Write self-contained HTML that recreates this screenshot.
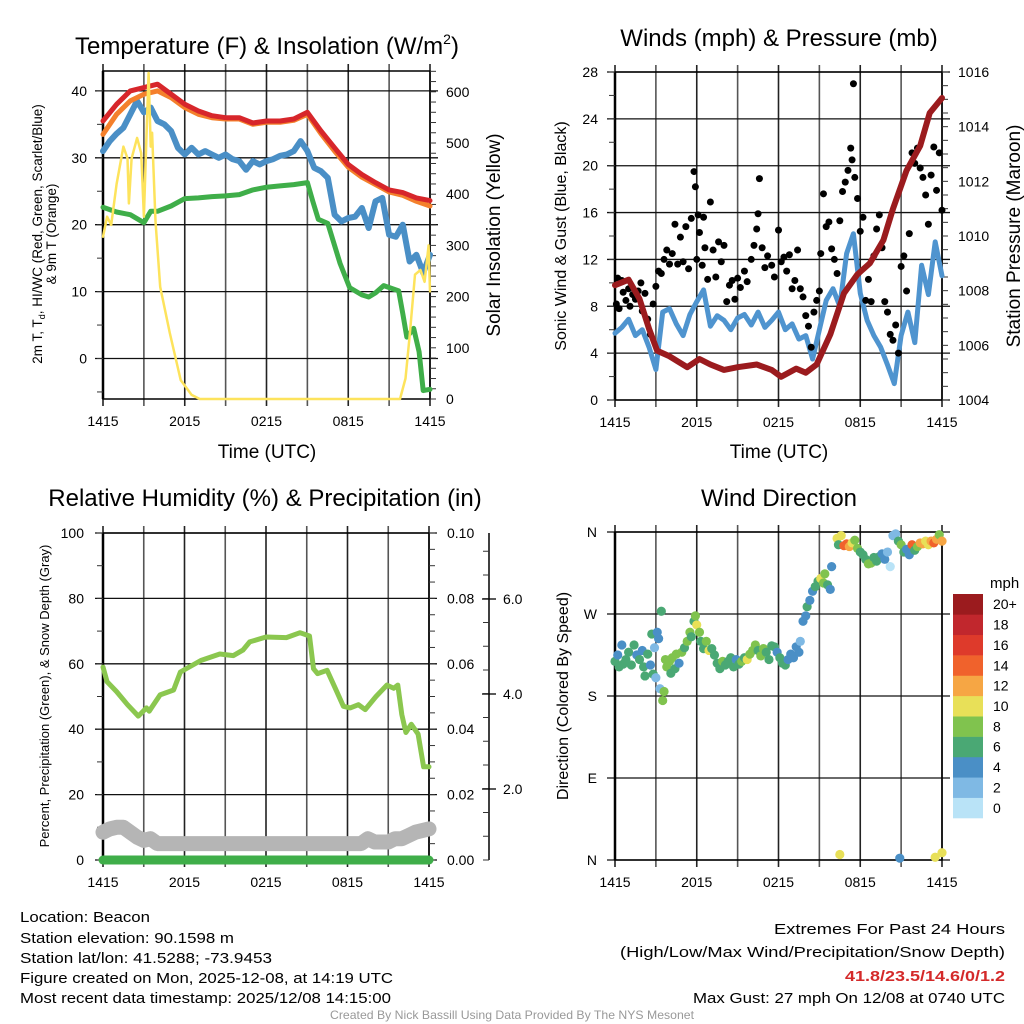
<!DOCTYPE html>
<html><head><meta charset="utf-8"><style>
html,body{margin:0;padding:0;background:#fff;}
svg{display:block;font-family:"Liberation Sans",sans-serif;}
</style></head><body>
<svg id="chart" width="1024" height="1024" viewBox="0 0 1024 1024" xmlns="http://www.w3.org/2000/svg">
<rect width="1024" height="1024" fill="#fff"/>
<g id="layer"></g>
<g id="txt" font-size="15" fill="#000">
<text x="267" y="54" font-size="24" text-anchor="middle">Temperature (F) &amp; Insolation (W/m<tspan font-size="14" dy="-10">2</tspan><tspan dy="10">)</tspan></text>
<text x="779" y="46" font-size="24" text-anchor="middle">Winds (mph) &amp; Pressure (mb)</text>
<text x="265" y="506" font-size="24" text-anchor="middle">Relative Humidity (%) &amp; Precipitation (in)</text>
<text x="779" y="506" font-size="24" text-anchor="middle">Wind Direction</text>
<text x="267" y="458" font-size="19" text-anchor="middle">Time (UTC)</text>
<text x="779" y="458" font-size="19" text-anchor="middle">Time (UTC)</text>
<text transform="translate(42,234) rotate(-90)" font-size="13.5" text-anchor="middle">2m T, T<tspan font-size="9" dy="3">d</tspan><tspan dy="-3">, HI/WC (Red, Green, Scarlet/Blue)</tspan></text>
<text transform="translate(56,234) rotate(-90)" font-size="13.5" text-anchor="middle">&amp; 9m T (Orange)</text>
<text transform="translate(500,235) rotate(-90)" font-size="19" text-anchor="middle">Solar Insolation (Yellow)</text>
<text transform="translate(566,236) rotate(-90)" font-size="16" text-anchor="middle">Sonic Wind &amp; Gust (Blue, Black)</text>
<text transform="translate(1020,236) rotate(-90)" font-size="19" text-anchor="middle">Station Pressure (Maroon)</text>
<text transform="translate(49,696) rotate(-90)" font-size="13" text-anchor="middle">Percent, Precipitation (Green), &amp; Snow Depth (Gray)</text>
<text transform="translate(568,696) rotate(-90)" font-size="16" text-anchor="middle">Direction (Colored By Speed)</text>
<text x="990" y="588" font-size="15">mph</text>
<g>
<text x="20" y="922" textLength="130" lengthAdjust="spacingAndGlyphs">Location: Beacon</text>
<text x="20" y="943" textLength="214" lengthAdjust="spacingAndGlyphs">Station elevation: 90.1598 m</text>
<text x="20" y="963" textLength="252" lengthAdjust="spacingAndGlyphs">Station lat/lon: 41.5288; -73.9453</text>
<text x="20" y="983" textLength="373" lengthAdjust="spacingAndGlyphs">Figure created on Mon, 2025-12-08, at 14:19 UTC</text>
<text x="20" y="1003" textLength="371" lengthAdjust="spacingAndGlyphs">Most recent data timestamp: 2025/12/08 14:15:00</text>
</g>
<g text-anchor="end">
<text x="1005" y="934" textLength="231" lengthAdjust="spacingAndGlyphs">Extremes For Past 24 Hours</text>
<text x="1005" y="957" textLength="385" lengthAdjust="spacingAndGlyphs">(High/Low/Max Wind/Precipitation/Snow Depth)</text>
<text x="1005" y="981" fill="#d42a2a" font-weight="bold" textLength="160" lengthAdjust="spacingAndGlyphs">41.8/23.5/14.6/0/1.2</text>
<text x="1005" y="1003" textLength="312" lengthAdjust="spacingAndGlyphs">Max Gust: 27 mph On 12/08 at 0740 UTC</text>
</g>
<text x="512" y="1019" font-size="12" fill="#999" text-anchor="middle" textLength="364" lengthAdjust="spacingAndGlyphs">Created By Nick Bassill Using Data Provided By The NYS Mesonet</text>
</g>
</svg>
<script>
// ---------- data ----------
const xTickLabels = ["1415","2015","0215","0815","1415"];
const tempTicks = [0,10,20,30,40];
const insolTicks = [0,100,200,300,400,500,600];
const windTicks = [0,4,8,12,16,20,24,28];
const presTicks = [1004,1006,1008,1010,1012,1014,1016];
const rhTicks = [0,20,40,60,80,100];
const precipTicks = ["0.00","0.02","0.04","0.06","0.08","0.10"];
const snowTicks = ["2.0","4.0","6.0"];
const dirLabels = ["N","E","S","W","N"];
const speedBins = ["0","2","4","6","8","10","12","14","16","18","20+"];
const speedColors = ["#b9e3f7","#7fb9e4","#4a8fc6","#4aa874","#80c34e","#e8e058","#f6a644","#f0622c","#de3a2b","#c1272d","#9b1b1e"];

const redT = [0,1,2,3,4,5,6,7,8,9,10,11,12,13,14,15,16,17,18,19,20,21,22,23,24];
const redV = [35.5,38,40,40.5,41,39.5,38,37,36.3,36,36,35.2,35.5,35.5,35.8,36.8,34,31.5,29,27.5,26.3,25.2,24.8,24,23.6];
const orangeV = [33.5,36.5,38.5,39.5,40,39,37.5,36.5,36,35.8,35.8,35,35.3,35.3,35.6,36.5,33.6,31,28.6,27.1,26,24.9,24.4,23.5,22.8];
const blueT = [0,0.5,1,1.5,2,2.5,3,3.5,4,4.5,5,5.5,6,6.5,7,7.5,8,8.5,9,9.5,10,10.5,11,11.5,12,12.5,13,13.5,14,14.5,15,15.5,16,16.5,17,17.5,18,18.5,19,19.5,20,20.5,21,21.5,22,22.5,23,23.5,24];
const blueV = [31,32.5,33.6,34.5,36.5,38.5,36.8,37.5,35.5,35,34,31.5,30.5,31.5,30.5,31,30.5,30,30.5,29.8,29.5,28.2,29.5,29,29.5,29.8,30.3,30.5,31,32.5,31,28.5,28,27,21.5,20.5,21,21.2,22.5,19.5,23.5,24,18.5,18.2,20,14.5,15.5,12.8,15.5];
const greenT = [0,1,2,3,3.5,4,5,6,7,8,9,10,11,12,13,14,15,15.4,15.8,16.5,17.4,18.1,19,19.5,20,20.6,21.7,22,22.3,22.8,23.2,23.5,24];
const greenV = [22.6,21.9,21.5,20.3,22,22,22.8,23.9,24,24.2,24.3,24.5,25.2,25.6,25.8,26,26.3,23.5,20.8,20.2,14.2,10.6,9.5,9.2,9.8,10.9,10.1,6.7,3.2,4.5,1,-4.8,-4.6];
const solarT = [0,0.3,0.6,1,1.5,1.8,1.9,2.1,2.5,2.8,3,3.2,3.35,3.5,3.6,3.85,4.2,4.9,5.7,6.5,7.1,21.8,22.2,22.5,22.9,23.3,23.6,23.9,24];
const solarV = [317,356,340,420,493,470,382,470,510,480,356,520,637,493,520,347,219,129,37,8,0,0,40,122,243,252,229,300,210];

const sonicT = blueT;
const sonicV = [5.7,6.2,6.9,5.5,6.0,4.5,2.6,7.5,7.8,6.5,5.5,7.3,8.4,9.4,6.3,7.2,6.8,6.0,7.0,7.3,6.4,7.5,6.2,6.8,7.5,6.0,6.5,5.2,5.5,3.5,6.0,8.5,9.5,8.0,12.5,14.2,9.1,6.8,5.5,4.5,3.0,1.4,5.5,7.5,4.9,11.5,9.0,13.5,10.6];
const gustT = [0.1,0.2,0.3,0.5,0.6,0.8,1.0,1.1,1.3,1.5,1.7,1.9,2.0,2.2,2.4,2.6,2.8,3.0,3.2,3.4,3.6,3.8,4.0,4.2,4.4,4.6,4.8,5.0,5.2,5.4,5.6,5.8,5.9,6.0,6.1,6.2,6.4,6.5,6.6,6.8,7.0,7.2,7.4,7.6,7.8,8.0,8.2,8.4,8.6,8.8,9.0,9.2,9.5,9.7,10.0,10.2,10.4,10.5,10.6,10.8,11.0,11.2,11.5,11.7,12.0,12.2,12.4,12.6,12.8,13.0,13.2,13.4,13.6,13.8,14.0,14.2,14.4,14.6,14.8,15.0,15.1,15.3,15.5,15.7,15.9,16.1,16.3,16.5,16.7,16.9,17.1,17.3,17.4,17.5,17.6,17.8,18.0,18.2,18.4,18.6,18.8,19.0,19.2,19.4,19.6,19.8,20.0,20.2,20.4,20.6,20.8,21.0,21.2,21.4,21.6,21.8,22.0,22.2,22.4,22.6,22.8,23.0,23.2,23.4,23.6,23.8,24.0];
const gustV = [8.2,10.4,7.8,10.2,9.2,8.5,9.5,8.0,9.0,8.6,9.3,10.0,7.6,9.1,6.9,5.6,8.2,9.7,11.0,10.8,12.0,12.8,11.6,12.5,15.0,11.6,13.9,11.8,14.8,11.2,15.5,19.5,18.2,12.0,15.8,14.3,11.5,15.6,13.0,10.3,16.9,12.8,10.5,13.5,11.8,13.2,8.4,9.8,10.2,8.6,10.4,9.6,11.0,10.1,12.0,13.2,14.6,15.9,18.9,13.0,11.3,12.3,11.5,10.5,14.5,11.8,12.2,11.0,12.4,9.5,10.2,12.8,9.5,8.8,7.2,6.3,4.5,7.5,8.5,9.3,12.5,17.6,14.8,15.2,12.9,12.0,10.8,15.3,17.8,18.6,19.6,21.5,20.5,27.0,19.0,17.2,14.4,15.6,8.5,10.3,8.4,12.3,14.6,15.8,13.0,8.4,7.5,5.6,5.1,6.4,4.0,11.4,12.3,9.3,14.2,21.1,20.2,21.5,19.8,19.0,17.5,15.0,19.2,21.6,17.9,21.1,16.2];
const presT = [0,1,1.8,2.5,3.1,4,5.3,6.2,7,8,9,10.4,11.5,12.2,13.3,14,14.8,15.8,16.8,17.8,18.7,19.7,20.4,21.4,22.4,23.1,24];
const presV = [1008.2,1008.4,1007.7,1006.6,1005.8,1005.6,1005.2,1005.5,1005.3,1005.1,1005.2,1005.3,1005.1,1004.85,1005.15,1005.0,1005.3,1006.4,1007.9,1008.6,1009.0,1009.85,1011.0,1012.4,1013.3,1014.5,1015.05];

const rhT = [0,0.3,1,1.8,2.6,3.2,3.4,4.2,5.2,5.7,7.2,8.6,9.6,10.3,10.8,12,13.5,14.5,15.2,15.5,15.8,16.5,17.1,17.7,18.2,18.8,19.3,20.1,20.9,21.4,21.7,22,22.3,22.7,23.2,23.6,24];
const rhV = [59,54.5,51.5,47.5,44,46.5,45.5,50.5,52,57.5,61,63,62.5,64.2,66.7,68.2,68,69.5,68.5,58.5,57,58,52.5,47,46.5,47.5,46,50,53.5,52.5,53.5,44.5,39,41.5,38.5,28.5,28.5];
const snowT = [0,0.5,1,1.5,2,2.5,3,3.5,4,19,19.5,20,21,21.5,22,22.5,23,23.5,24];
const snowV = [8.5,9.5,10,10,8.5,7,6,6.5,5,5,6.5,5.5,5.5,6.5,6.5,7.5,8.5,9,9.5];
const precipT = [0,24];
const precipV = [0,0];

const dirT = [0.0,0.2,0.3,0.5,0.6,0.8,1.0,1.2,1.4,1.6,1.8,2.0,2.1,2.2,2.4,2.6,2.8,2.7,2.9,3.0,3.1,3.2,3.3,3.4,3.5,3.6,3.7,3.8,4.0,4.1,4.2,4.4,4.5,4.7,4.9,5.1,5.3,5.5,5.6,5.8,5.9,6.0,6.2,6.3,6.5,6.7,6.9,7.1,7.3,7.5,7.7,7.9,8.1,8.3,8.5,8.7,8.9,9.1,9.3,9.5,9.7,9.9,10.1,10.3,10.5,10.7,10.9,11.1,11.3,11.5,11.7,11.9,12.1,12.3,12.5,12.7,12.9,13.1,13.3,13.5,13.6,13.8,14.0,14.1,14.3,14.5,14.7,14.9,15.1,15.3,15.4,15.6,15.8,15.9,16.3,16.4,16.6,16.8,17.0,17.2,17.4,17.6,17.8,18.0,18.2,18.4,18.6,18.8,19.0,19.2,19.4,19.6,19.8,20.0,20.2,20.4,20.6,20.8,21.0,21.2,21.4,21.6,21.8,22.0,22.2,22.4,22.6,22.8,23.0,23.2,23.4,23.6,23.8,24.0,16.5,20.9,23.5,24.0];
const dirD = [218,225,212,236,215,220,228,214,236,225,220,230,212,202,226,214,204,248,233,200,250,243,188,273,175,185,220,212,218,205,222,210,226,216,228,233,240,250,245,262,268,258,250,240,232,240,230,232,225,216,210,218,214,218,222,212,220,215,218,222,220,226,230,236,230,224,232,228,220,235,234,228,222,216,214,220,226,222,234,228,240,262,268,278,285,295,300,306,309,304,314,302,297,322,353,346,356,345,347,344,348,351,342,338,335,330,325,326,332,328,333,336,330,338,322,356,358,350,346,338,341,335,346,340,344,348,347,350,346,350,348,352,357,350,6,2,3,8];
const dirS = [6,5,6,4,6,7,6,6,6,5,7,4,6,6,6,4,7,7,3,3,5,4,3,6,8,8,8,8,9,6,8,7,8,4,8,6,8,8,6,6,8,10,8,6,6,8,10,6,6,6,7,8,6,6,6,6,5,7,8,6,10,8,8,8,7,8,8,7,6,6,7,4,6,6,6,4,4,4,4,4,3,4,4,6,4,4,6,6,10,8,8,6,4,4,10,6,10,14,14,12,10,8,8,6,6,6,8,8,7,6,6,4,4,2,1,2,2,6,8,6,4,4,14,6,8,12,12,11,10,12,14,12,8,12,10,4,10,10];

// ---------- helpers ----------
const NS = "http://www.w3.org/2000/svg";
const root = document.getElementById("layer");
function mk(tag, attrs, parent) {
  const el = document.createElementNS(NS, tag);
  for (const k in attrs) el.setAttribute(k, attrs[k]);
  (parent || root).appendChild(el);
  return el;
}
function grp(name) {
  const g = mk("g", {});
  
  
  return g;
}
const P1 = {x0:103, x1:430, y0:71, y1:399};
const P2 = {x0:615, x1:942, y0:72, y1:400};
const P3 = {x0:103, x1:429, y0:533, y1:860};
const P4 = {x0:615, x1:942, y0:532, y1:860};
const xs = (p, t) => p.x0 + t / 24 * (p.x1 - p.x0);
const yTemp = v => 358.5 - v * 6.69;
const ySolar = v => 399 - v * 0.512;
const yWind = v => 400 - v * 328 / 28;
const yPres = v => 400 - (v - 1004) * 328 / 12;
const yRH = v => 860 - v * 3.27;
const yPrecip = v => 860 - v * 3270;
const yDir = d => 860 - d / 360 * 328;

function pathFrom(p, ts, vs, yf) {
  let d = "";
  for (let i = 0; i < ts.length; i++) d += (i ? "L" : "M") + xs(p, ts[i]).toFixed(1) + "," + yf(vs[i]).toFixed(1);
  return d;
}

function frame(p, name, hLines) {
  const g = grp(name + "-grid");
  for (let h = 0; h <= 24; h += 3) {
    const x = xs(p, h);
    const l = mk("line", {x1:x, x2:x, y1:p.y0 - 7, y2:p.y1 + 7, stroke:(h % 6 ? "#555" : "#222"), "stroke-width":1.6}, g);
    
  }
  for (const y of hLines) {
    const l = mk("line", {x1:p.x0 - 8, x2:p.x1 + 8, y1:y, y2:y, stroke:"#111", "stroke-width":1.3}, g);
    
  }
  const r = mk("rect", {x:p.x0, y:p.y0, width:p.x1 - p.x0, height:p.y1 - p.y0, fill:"none", stroke:"#000", "stroke-width":1.5}, g);
  
  const lt = mk("line", {x1:p.x0, x2:p.x0, y1:p.y0, y2:p.y1, stroke:"#000", "stroke-width":2.5}, g);
  
  const gl = grp(name + "-x-tick-labels");
  xTickLabels.forEach((s, i) => {
    const t = mk("text", {x:xs(p, i * 6), y:p.y1 + 27, "font-size":14, "text-anchor":"middle"}, gl);
    
    t.textContent = s;
  });
}
function yLabels(name, vals, yf, x, anchor, fmt) {
  const g = grp(name);
  vals.forEach(v => {
    const t = mk("text", {x:x, y:yf(v) + 5, "font-size":14, "text-anchor":anchor}, g);
    
    t.textContent = fmt ? fmt(v) : v;
  });
}
function minorTicks(name, x, y0, y1, step, dir) {
  const g = grp(name);
  for (let y = y1; y >= y0 - 0.5; y -= step) {
    const l = mk("line", {x1:x, x2:x + dir * 6, y1:y, y2:y, stroke:"#333", "stroke-width":1}, g);
    
  }
}
function line(p, name, ts, vs, yf, color, w, opacity) {
  const e = mk("path", {d:pathFrom(p, ts, vs, yf), fill:"none", stroke:color, "stroke-width":w, "stroke-linejoin":"round", "stroke-linecap":"round", opacity:opacity || 1});
  
  
  return e;
}

// ---------- Panel 1: temperature ----------
frame(P1, "temp", tempTicks.map(yTemp));
minorTicks("temp-left-minor-ticks", P1.x0, P1.y0, yTemp(-5), 6.69 * 5, -1);
minorTicks("insol-right-minor-ticks", P1.x1, P1.y0, 399, 0.512 * 20, 1);
yLabels("temp-y-tick-labels", tempTicks, yTemp, 87, "end");
yLabels("insol-y-tick-labels", insolTicks, ySolar, 446, "start");
line(P1, "green-dewpoint-line", greenT, greenV, yTemp, "#3fae49", 5);
line(P1, "blue-windchill-line", blueT, blueV, yTemp, "#4a8fc6", 6);
line(P1, "orange-9m-temp-line", redT, orangeV, yTemp, "#f4802c", 5);
line(P1, "red-2m-temp-line", redT, redV, yTemp, "#d7262b", 5);
line(P1, "yellow-insolation-line", solarT, solarV, ySolar, "#fde35c", 2.5);

// ---------- Panel 2: wind & pressure ----------
frame(P2, "wind", windTicks.map(yWind));
minorTicks("wind-left-minor-ticks", P2.x0, P2.y0, P2.y1, 328 / 14, -1);
minorTicks("pres-right-minor-ticks", P2.x1, P2.y0, P2.y1, 328 / 24, 1);
yLabels("wind-y-tick-labels", windTicks, yWind, 598, "end");
yLabels("pres-y-tick-labels", presTicks, yPres, 958, "start");
line(P2, "sonic-wind-line", sonicT, sonicV, yWind, "#4f94cf", 5);
const gg = grp("gust-points");
for (let i = 0; i < gustT.length; i++) {
  const c = mk("circle", {cx:xs(P2, gustT[i]), cy:yWind(gustV[i]), r:3.5, fill:"#000"}, gg);
  
}
line(P2, "pressure-line", presT, presV, yPres, "#9b1b1e", 6);

// ---------- Panel 3: RH ----------
frame(P3, "rh", rhTicks.map(yRH));
minorTicks("rh-left-minor-ticks", P3.x0, P3.y0, P3.y1, 3.27 * 10, -1);
minorTicks("precip-right-minor-ticks", P3.x1, P3.y0, P3.y1, 3.27 * 5, 1);
yLabels("rh-y-tick-labels", rhTicks, yRH, 84, "end");
const pg = grp("precip-y-tick-labels");
precipTicks.forEach((s, i) => {
  const t = mk("text", {x:447, y:yRH(i * 20) + 5, "font-size":14}, pg);
  
  t.textContent = s;
});
const sa = mk("line", {x1:489, x2:489, y1:533, y2:860, stroke:"#000", "stroke-width":1.5});

minorTicks("snow-minor-ticks", 489, 533, 860, 95 / 4, -1);
const sg = grp("snow-y-tick-labels");
snowTicks.forEach((s, i) => {
  const y = 884 - (i + 1) * 95;
  const l = mk("line", {x1:482, x2:496, y1:y, y2:y, stroke:"#000", "stroke-width":1.3}, sg);
  
  const t = mk("text", {x:503, y:y + 5, "font-size":14}, sg);
  
  t.textContent = s;
});
line(P3, "snow-depth-line", snowT, snowV, yRH, "#b5b5b5", 15);
line(P3, "precip-line", precipT, precipV, yPrecip, "#3fae49", 9);
line(P3, "rh-line", rhT, rhV, yRH, "#8bc74f", 5);

// ---------- Panel 4: direction ----------
frame(P4, "dir", [0,90,180,270,360].map(yDir));
const dg = grp("dir-y-tick-labels");
dirLabels.forEach((s, i) => {
  const t = mk("text", {x:597, y:yDir(i * 90) + 5, "font-size":14, "text-anchor":"end"}, dg);
  
  t.textContent = s;
});
const wg = grp("direction-points");
for (let i = 0; i < dirT.length; i++) {
  const b = Math.min(10, Math.floor(dirS[i] / 2));
  const c = mk("circle", {cx:xs(P4, dirT[i]), cy:yDir(dirD[i]), r:4.6, fill:speedColors[b]}, wg);
  
}
const cb = grp("speed-colorbar");
const bh = 224 / 11;
for (let i = 0; i < 11; i++) {
  const y = 594 + (10 - i) * bh;
  const r = mk("rect", {x:953, y:y, width:30, height:bh + 0.3, fill:speedColors[i]}, cb);
  
  const t = mk("text", {x:993, y:y + bh / 2 + 5, "font-size":14}, cb);
  
  t.textContent = speedBins[i];
}
</script>
</body></html>
